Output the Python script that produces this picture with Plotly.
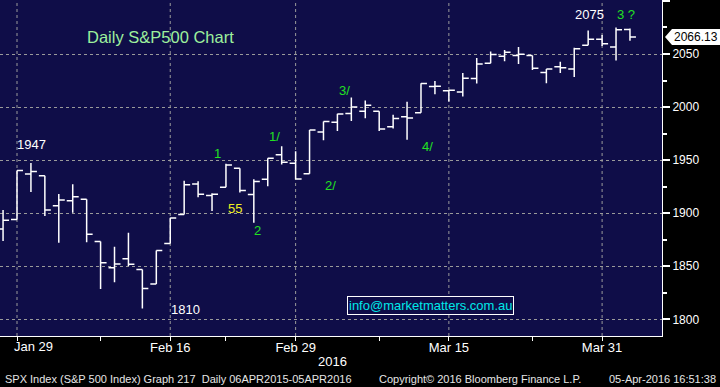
import plotly.graph_objects as go

dates = ["2016-01-28", "2016-01-29", "2016-02-01", "2016-02-02", "2016-02-03", "2016-02-04",
         "2016-02-05", "2016-02-08", "2016-02-09", "2016-02-10", "2016-02-11", "2016-02-12",
         "2016-02-16", "2016-02-17", "2016-02-18", "2016-02-19", "2016-02-22", "2016-02-23",
         "2016-02-24", "2016-02-25", "2016-02-26", "2016-02-29", "2016-03-01", "2016-03-02",
         "2016-03-03", "2016-03-04", "2016-03-07", "2016-03-08", "2016-03-09", "2016-03-10",
         "2016-03-11", "2016-03-14", "2016-03-15", "2016-03-16", "2016-03-17", "2016-03-18",
         "2016-03-21", "2016-03-22", "2016-03-23", "2016-03-24", "2016-03-28", "2016-03-29",
         "2016-03-30", "2016-03-31", "2016-04-01", "2016-04-04"]
opens = [1885.2, 1894.0, 1936.9, 1935.3, 1907.1, 1911.7, 1913.1, 1873.3, 1848.5, 1857.1,
         1847.0, 1833.4, 1871.4, 1898.8, 1927.6, 1916.7, 1924.4, 1942.4, 1917.6, 1931.9,
         1955.0, 1947.1, 1937.1, 1976.6, 1985.6, 1994.0, 1996.1, 1996.1, 1981.4, 1991.0,
         1994.7, 2019.3, 2015.3, 2014.2, 2026.9, 2041.2, 2047.9, 2048.6, 2048.6, 2032.5,
         2037.9, 2035.8, 2058.3, 2063.8, 2056.6, 2073.2]
highs = [1903.0, 1940.2, 1947.2, 1935.3, 1918.0, 1927.4, 1913.1, 1873.3, 1868.3, 1881.6,
         1847.0, 1864.8, 1895.8, 1930.7, 1930.0, 1918.8, 1946.7, 1942.4, 1932.1, 1951.8,
         1963.0, 1958.3, 1978.4, 1986.5, 1993.7, 2009.1, 2006.1, 1996.1, 1992.7, 2005.1,
         2022.4, 2024.6, 2015.9, 2032.0, 2046.2, 2052.4, 2053.9, 2056.6, 2048.6, 2036.0,
         2042.7, 2055.9, 2072.2, 2067.9, 2075.1, 2074.0]
lows = [1873.7, 1894.0, 1920.0, 1897.3, 1872.2, 1900.5, 1872.7, 1828.5, 1834.9, 1850.3,
        1810.1, 1833.4, 1871.4, 1898.8, 1915.1, 1902.2, 1924.4, 1919.4, 1891.0, 1925.4,
        1945.8, 1931.8, 1937.1, 1968.8, 1977.4, 1986.8, 1989.4, 1977.4, 1979.8, 1969.3,
        1994.7, 2012.1, 2005.2, 2010.0, 2022.2, 2041.2, 2043.1, 2040.6, 2034.9, 2022.5,
        2032.0, 2028.3, 2058.3, 2057.5, 2044.0, 2062.6]
closes = [1893.4, 1940.2, 1939.4, 1903.0, 1912.5, 1915.5, 1880.1, 1853.4, 1852.2, 1851.9,
          1829.1, 1864.8, 1895.6, 1926.8, 1917.8, 1917.8, 1945.5, 1921.3, 1929.8, 1951.7,
          1948.1, 1932.2, 1978.4, 1986.5, 1993.4, 2000.0, 2001.8, 1979.3, 1989.3, 1989.6,
          2022.2, 2019.6, 2015.9, 2027.2, 2040.6, 2049.6, 2051.6, 2049.8, 2036.7, 2035.9,
          2037.1, 2055.0, 2064.0, 2059.7, 2072.8, 2066.13]

major_dates = ["2016-01-29", "2016-02-16", "2016-02-29", "2016-03-15", "2016-03-31"]
major_labels = ["Jan 29", "Feb 16", "Feb 29", "Mar 15", "Mar 31"]
minor_dates = ["2016-02-08", "2016-02-22", "2016-03-08", "2016-03-23"]
y_ticks = [1800, 1850, 1900, 1950, 2000, 2050, 2100]
y_minor = [1825, 1875, 1925, 1975, 2025, 2075]

Y_MIN, Y_MAX = 1784.3, 2100.9
FONT = "Liberation Sans"

fig = go.Figure(go.Ohlc(
    x=dates, open=opens, high=highs, low=lows, close=closes,
    increasing=dict(line=dict(color="white", width=1.5)),
    decreasing=dict(line=dict(color="white", width=1.5)),
    tickwidth=0.43, showlegend=False, hoverinfo="skip"))

tickvals = major_dates + minor_dates
# first label is drawn separately (shifted inward, as in the reference)
ticktext = [""] + major_labels[1:] + [""] * len(minor_dates)

fig.update_layout(
    width=720, height=387,
    margin=dict(l=0, r=58, t=0, b=51),
    paper_bgcolor="black", plot_bgcolor="#0f0d48",
    font=dict(family=FONT, color="white"),
    xaxis=dict(type="category", range=[-0.22, 47.3], showgrid=False, zeroline=False,
               tickmode="array", tickvals=tickvals, ticktext=ticktext,
               ticks="outside", ticklen=4, tickcolor="white", tickwidth=1,
               ticklabelstandoff=-5,
               showline=True, linecolor="white", linewidth=1,
               tickfont=dict(size=13, color="white", family=FONT),
               rangeslider=dict(visible=False)),
    yaxis=dict(side="right", range=[Y_MIN, Y_MAX], zeroline=False,
               tickmode="array", tickvals=y_ticks,
               ticktext=[str(v) if v < 2100 else "" for v in y_ticks],
               showgrid=True, gridcolor="#9a9a9a", griddash="dot", gridwidth=1,
               ticks="outside", ticklen=7, tickwidth=2, tickcolor="white",
               showline=True, linecolor="white", linewidth=1,
               tickfont=dict(size=12, color="white", family=FONT),
               minor=dict(tickmode="array", tickvals=y_minor, ticks="outside", ticklen=4,
                          tickcolor="white", showgrid=False)),
)

shapes = []
for d in major_dates:
    shapes.append(dict(type="line", xref="x", yref="paper", x0=d, x1=d, y0=0, y1=1,
                       line=dict(color="#9a9a9a", width=1, dash="dot"), layer="below"))

# last price tag
last = closes[-1]
py = (last - Y_MIN) / (Y_MAX - Y_MIN)
dy = 8 / 336
x_tip, x_box, x_end = 665 / 662, 672 / 662, 720 / 662
shapes.append(dict(type="path", xref="paper", yref="paper",
                   path=f"M {x_tip},{py} L {x_box},{py+dy} L {x_end},{py+dy} L {x_end},{py-dy} L {x_box},{py-dy} Z",
                   fillcolor="white", line=dict(width=0), layer="above"))
fig.update_layout(shapes=shapes)


def px_ann(text, cx, cy, color, size, **kw):
    fig.add_annotation(text=text, xref="paper", yref="paper", x=cx / 662, y=1 - cy / 336,
                       xanchor="center", yanchor="middle", showarrow=False,
                       font=dict(color=color, size=size, family=FONT), **kw)


px_ann(major_labels[0], 33, 346.5, "white", 13)
px_ann(f"{last:.2f}", 696, 336 * (1 - py), "black", 12)
px_ann("Daily S&P500 Chart", 160.5, 37, "#9df09d", 16.5)
px_ann("1947", 31, 144, "white", 13)
px_ann("1810", 185.5, 309, "white", 13)
px_ann("2075", 589, 15, "white", 13)
px_ann("3 ?", 626, 15, "#22e022", 13)
px_ann("1", 217, 154, "#22e022", 13)
px_ann("55", 234.5, 208, "#f0f020", 13)
px_ann("2", 257.5, 230, "#22e022", 13)
px_ann("1/", 274, 136, "#22e022", 13)
px_ann("2/", 330, 185, "#22e022", 13)
px_ann("4/", 427, 146, "#22e022", 13)
px_ann("3/", 344, 91, "#22e022", 13)
px_ann("info@marketmatters.com.au", 430, 305, "#00e8e8", 13,
       bordercolor="white", borderwidth=1, borderpad=1, bgcolor="#0f0d48")
px_ann("2016", 332, 361, "white", 13)

fig.add_annotation(text="SPX Index (S&P 500 Index) Graph 217  Daily 06APR2015-05APR2016",
                   xref="paper", yref="paper", x=3 / 662, y=1 - 379 / 336, xanchor="left",
                   yanchor="middle", showarrow=False, font=dict(color="#e6e6e6", size=11, family=FONT))
fig.add_annotation(text="Copyright© 2016 Bloomberg Finance L.P.",
                   xref="paper", yref="paper", x=377 / 662, y=1 - 379 / 336, xanchor="left",
                   yanchor="middle", showarrow=False, font=dict(color="#e6e6e6", size=11, family=FONT))
fig.add_annotation(text="05-Apr-2016 16:51:38",
                   xref="paper", yref="paper", x=718 / 662, y=1 - 379 / 336, xanchor="right",
                   yanchor="middle", showarrow=False, font=dict(color="#e6e6e6", size=11, family=FONT))

fig.write_html("out.html", config={"displayModeBar": False},
               post_script="document.body.style.margin='0';document.body.style.padding='0';"
                           "document.body.style.overflow='hidden';document.body.style.background='black';")
